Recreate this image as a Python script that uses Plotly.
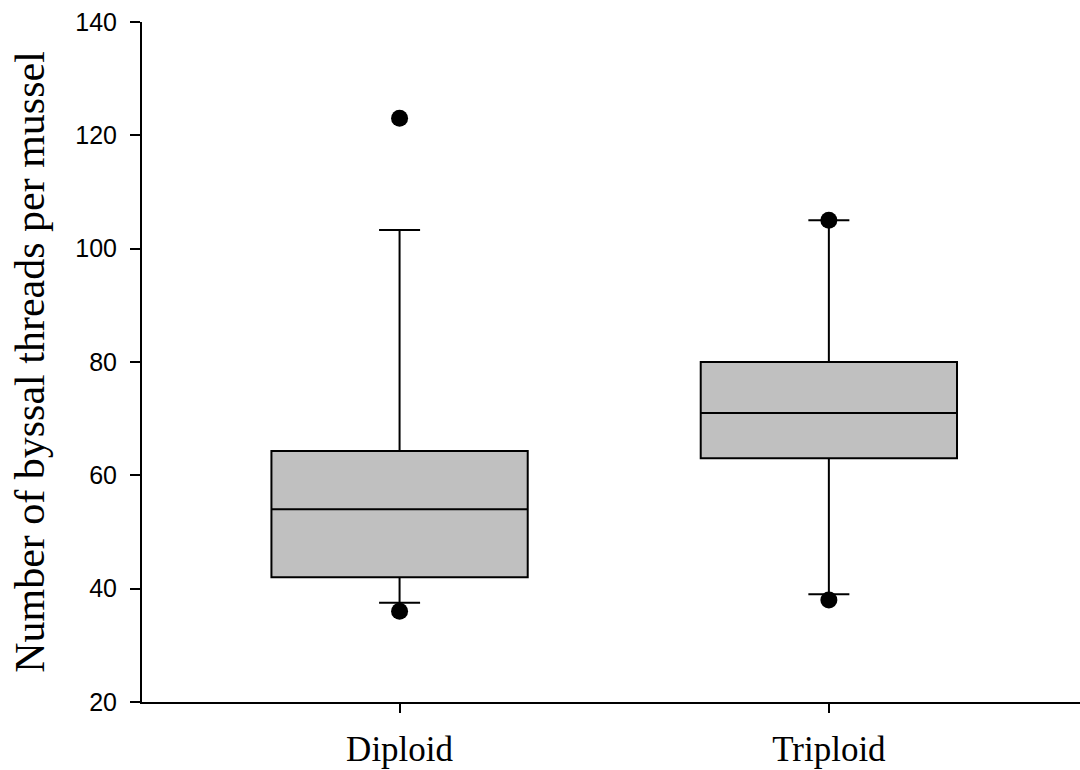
import plotly.graph_objects as go

# Summary statistics per ploidy group
groups = ["Diploid", "Triploid"]
q1 = [42.0, 63.0]
median = [54.0, 71.0]
q3 = [64.3, 80.0]
lower_fence = [37.5, 39.0]
upper_fence = [103.3, 105.0]

# Points beyond the whiskers
outlier_groups = ["Diploid", "Diploid", "Triploid", "Triploid"]
outlier_values = [123.0, 36.0, 105.0, 38.0]

y_ticks = [20, 40, 60, 80, 100, 120, 140]

fig = go.Figure()

fig.add_trace(go.Box(
    x=groups,
    q1=q1,
    median=median,
    q3=q3,
    lowerfence=lower_fence,
    upperfence=upper_fence,
    width=0.597,
    whiskerwidth=0.16,
    fillcolor="#C0C0C0",
    line=dict(color="black", width=2),
    boxpoints=False,
    showlegend=False,
    hoverinfo="skip",
))

fig.add_trace(go.Scatter(
    x=outlier_groups,
    y=outlier_values,
    mode="markers",
    marker=dict(color="black", size=17),
    showlegend=False,
    hoverinfo="skip",
))

fig.update_layout(
    width=1080,
    height=770,
    margin=dict(l=142, r=0, t=22, b=68),
    plot_bgcolor="white",
    paper_bgcolor="white",
    xaxis=dict(
        range=[-0.6, 1.585],
        showline=True,
        linecolor="black",
        linewidth=2,
        ticks="outside",
        ticklen=9,
        tickwidth=2,
        tickcolor="black",
        ticklabelstandoff=6,
        showgrid=False,
        zeroline=False,
        tickfont=dict(family="Liberation Serif", size=35, color="black"),
    ),
    yaxis=dict(
        range=[20, 140],
        tickvals=y_ticks,
        showline=True,
        linecolor="black",
        linewidth=2,
        ticks="outside",
        ticklen=10,
        tickwidth=2,
        tickcolor="black",
        ticklabelstandoff=8,
        showgrid=False,
        zeroline=False,
        tickfont=dict(family="Liberation Sans", size=25, color="black"),
        title=dict(
            text="Number of byssal threads per mussel",
            font=dict(family="Liberation Serif", size=42, color="black"),
            standoff=18,
        ),
    ),
)

fig.write_html("out.html")
